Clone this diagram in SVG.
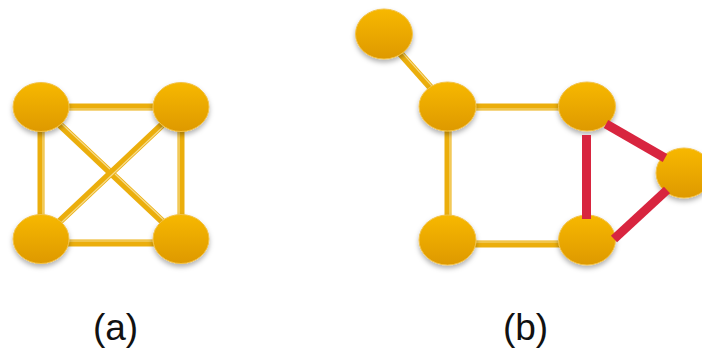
<svg xmlns="http://www.w3.org/2000/svg" width="702" height="351" viewBox="0 0 702 351">
<defs>
<linearGradient id="ng" x1="0" y1="0" x2="0" y2="1">
<stop offset="0" stop-color="#F7B800"/>
<stop offset="1" stop-color="#DE9900"/>
</linearGradient>
<filter id="sh" x="-30%" y="-30%" width="160%" height="170%">
<feDropShadow dx="0" dy="3" stdDeviation="2.5" flood-color="#000" flood-opacity="0.3"/>
</filter>
</defs>
<style>
.e{stroke:#EBAE0C;stroke-width:7;fill:none}
.el{stroke:#F6DC8C;stroke-width:1.2;fill:none}
.r{stroke:#D8253F;stroke-width:9;fill:none}
.n{fill:url(#ng);stroke:#F2C24A;stroke-width:1;filter:url(#sh)}
.t{font-family:"Liberation Sans",Arial,sans-serif;font-size:37px;fill:#111;text-anchor:middle}
</style>
<g id="connectors">
<g id="edges-a">
<line class="e" x1="41" y1="107" x2="181" y2="107"/><line class="el" x1="41" y1="109" x2="181" y2="109"/>
<line class="e" x1="41" y1="107" x2="41" y2="239"/><line class="el" x1="43" y1="107" x2="43" y2="239"/>
<line class="e" x1="181" y1="107" x2="181" y2="239"/><line class="el" x1="179" y1="107" x2="179" y2="239"/>
<line class="e" x1="41" y1="243" x2="181" y2="243"/><line class="el" x1="41" y1="241" x2="181" y2="241"/>
<line class="e" x1="41" y1="107" x2="181" y2="239"/><line class="el" x1="42.4" y1="105.5" x2="182.4" y2="237.5"/>
<line class="e" x1="181" y1="107" x2="41" y2="239"/><line class="el" x1="182.4" y1="108.5" x2="42.4" y2="240.5"/>
</g>
<g id="edges-b">
<line class="e" x1="383" y1="34" x2="447" y2="106"/><line class="el" x1="384.5" y1="32.7" x2="448.5" y2="104.7"/>
<line class="e" x1="447" y1="107" x2="587" y2="107"/><line class="el" x1="447" y1="109" x2="587" y2="109"/>
<line class="e" x1="448" y1="106" x2="448" y2="240"/><line class="el" x1="450" y1="106" x2="450" y2="240"/>
<line class="e" x1="447" y1="244" x2="587" y2="244"/><line class="el" x1="447" y1="242" x2="587" y2="242"/>
</g>
</g>
<g id="node-a1"><ellipse class="n" cx="41" cy="107" rx="28" ry="24.5"/></g>
<g id="node-a2"><ellipse class="n" cx="181" cy="107" rx="28" ry="24.5"/></g>
<g id="node-a3"><ellipse class="n" cx="41" cy="239" rx="28" ry="24.5"/></g>
<g id="node-a4"><ellipse class="n" cx="181" cy="239" rx="28" ry="24.5"/></g>
<g id="node-b0"><ellipse class="n" cx="384" cy="34" rx="28.5" ry="25"/></g>
<g id="node-b1"><ellipse class="n" cx="447.5" cy="106.5" rx="28.5" ry="24.5"/></g>
<g id="node-b2"><ellipse class="n" cx="587" cy="106.5" rx="28.5" ry="24.5"/></g>
<g id="node-b3"><ellipse class="n" cx="684" cy="173" rx="28" ry="25"/></g>
<g id="node-b4"><ellipse class="n" cx="447.5" cy="240" rx="28.5" ry="25"/></g>
<g id="node-b5"><ellipse class="n" cx="587" cy="240" rx="28.5" ry="25"/></g>
<g id="red-connectors">
<line class="r" x1="586.5" y1="135" x2="586.5" y2="219"/>
<line class="r" x1="606" y1="124" x2="665" y2="158"/>
<line class="r" x1="614" y1="239" x2="667" y2="190"/>
</g>
<text class="t" x="115.5" y="340">(a)</text>
<text class="t" x="525.5" y="340">(b)</text>
</svg>
